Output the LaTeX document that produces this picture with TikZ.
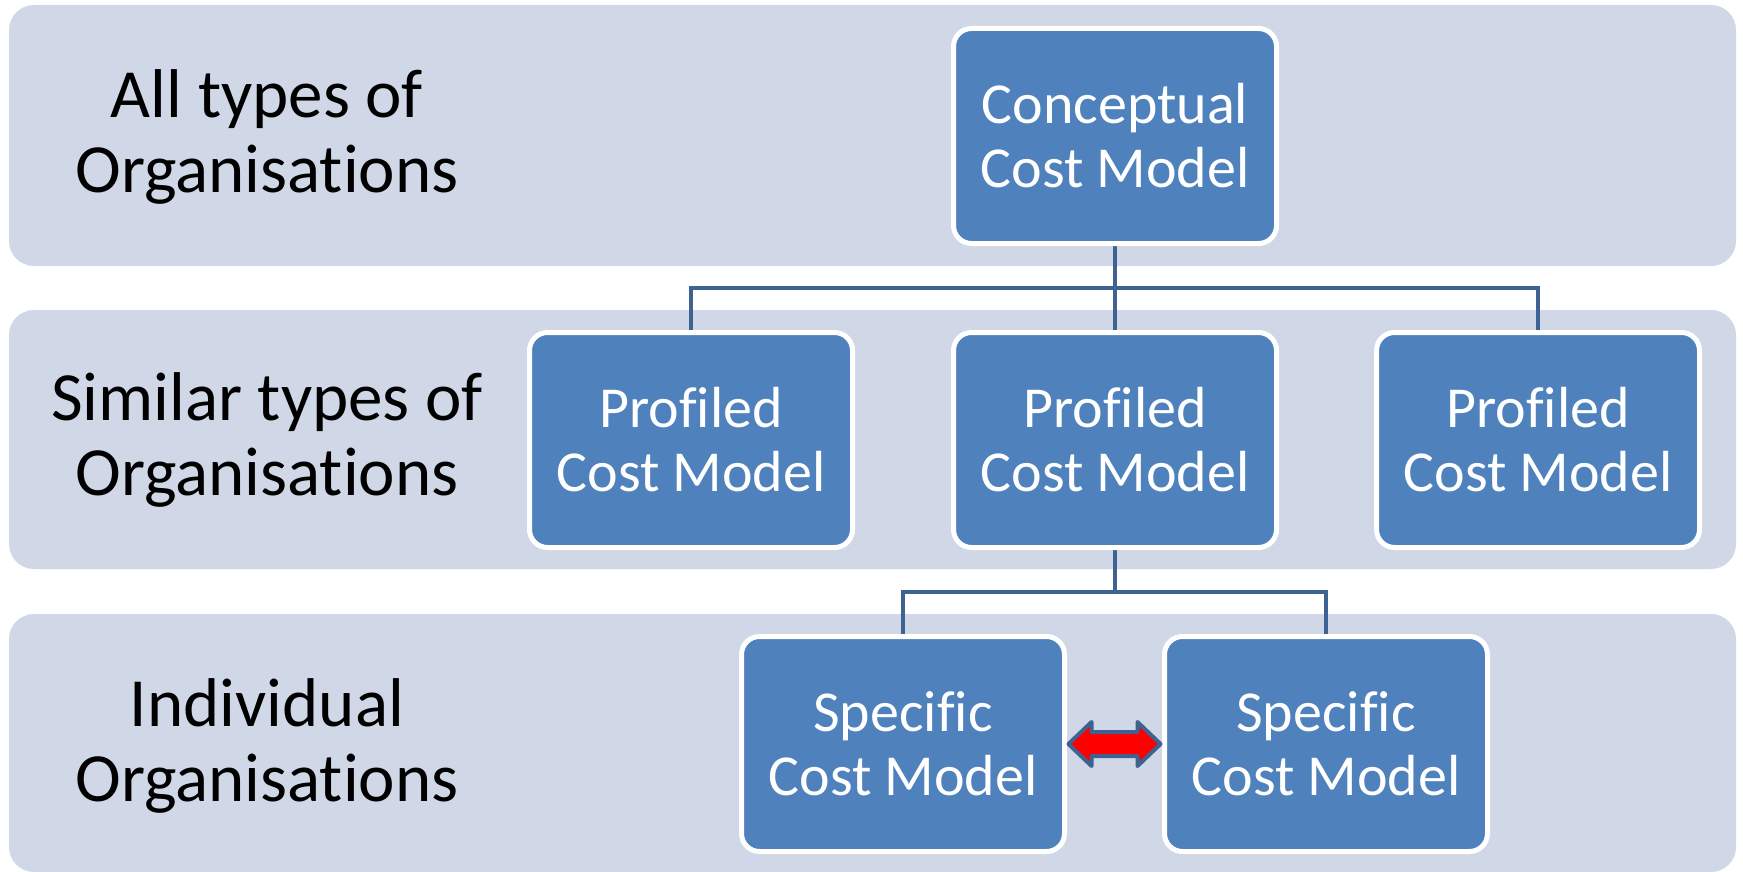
\documentclass[tikz,border=0pt]{standalone}
\usepackage{fontspec}
\setmainfont{Carlito}[Ligatures={NoCommon,NoRare,NoContextual}]
\usepackage{tikz}
\usetikzlibrary{positioning,calc,backgrounds}

\definecolor{boxblue}{HTML}{4F81BD}
\definecolor{bandgrey}{HTML}{D0D8E8}
\definecolor{linkblue}{HTML}{3E6291}

\newcommand\boxfont{\fontsize{58}{64}\selectfont}
\newcommand\labelfont{\fontsize{69}{75}\selectfont}

\tikzset{
  modelbox/.style={draw=white, line width=5pt, fill=boxblue, rounded corners=18pt,
    minimum width=323pt, minimum height=215pt, text=white, align=center, font=\boxfont},
  bandlabel/.style={align=center, text=black, font=\labelfont},
  band/.style={fill=bandgrey, rounded corners=25pt},
  link/.style={draw=linkblue, line width=4pt},
  swaparrow/.style={draw=linkblue, fill=red, line width=4pt, line join=round}
}

\begin{document}
\begin{tikzpicture}[x=1pt, y=-1pt]
    \useasboundingbox (0,0) rectangle (1743,872);

    % levels of the hierarchy
    \foreach \n/\y/\txt in {1/137/{All types of\\Organisations}, 2/440/{Similar types of\\Organisations}, 3/746/{Individual\\Organisations}}
        \node [bandlabel] (label\n) at (267,\y) {\txt};

    \node [modelbox] (concept) at (1115,136) {Conceptual\\Cost Model};
    \foreach \n/\x in {1/691, 2/1115, 3/1538}
        \node [modelbox] (prof\n) at (\x,440) {Profiled\\Cost Model};
    \foreach \n/\x in {1/903, 2/1326}
        \node [modelbox] (spec\n) at (\x,744) {Specific\\Cost Model};

    % exchange between specific models
    \coordinate (swap) at ($(spec1.east)!.5!(spec2.west)$);
    \draw [swaparrow] ($(swap)+(-46,0)$) -- ++(23,-22) -- ++(0,10) -- ++(46,0) -- ++(0,-10)
        -- ++(23,22) -- ++(-23,22) -- ++(0,-10) -- ++(-46,0) -- ++(0,10) -- cycle;

    \begin{scope}[on background layer]
        \foreach \ya/\yb in {5/266, 310/569, 614/872}
            \fill [band] (9,\ya) rectangle (1736,\yb);
        \coordinate (split1) at ($(concept.south)!.5!(prof2.north)$);
        \coordinate (split2) at ($(prof2.south)!.5!(prof2.south |- spec1.north)$);
        \draw [link] (concept.south) -- (prof2.north);
        \draw [link] (prof1.north) |- (split1) -| (prof3.north);
        \draw [link] (prof2.south) -- (split2);
        \draw [link] (spec1.north) |- (split2) -| (spec2.north);
    \end{scope}
\end{tikzpicture}
\end{document}
